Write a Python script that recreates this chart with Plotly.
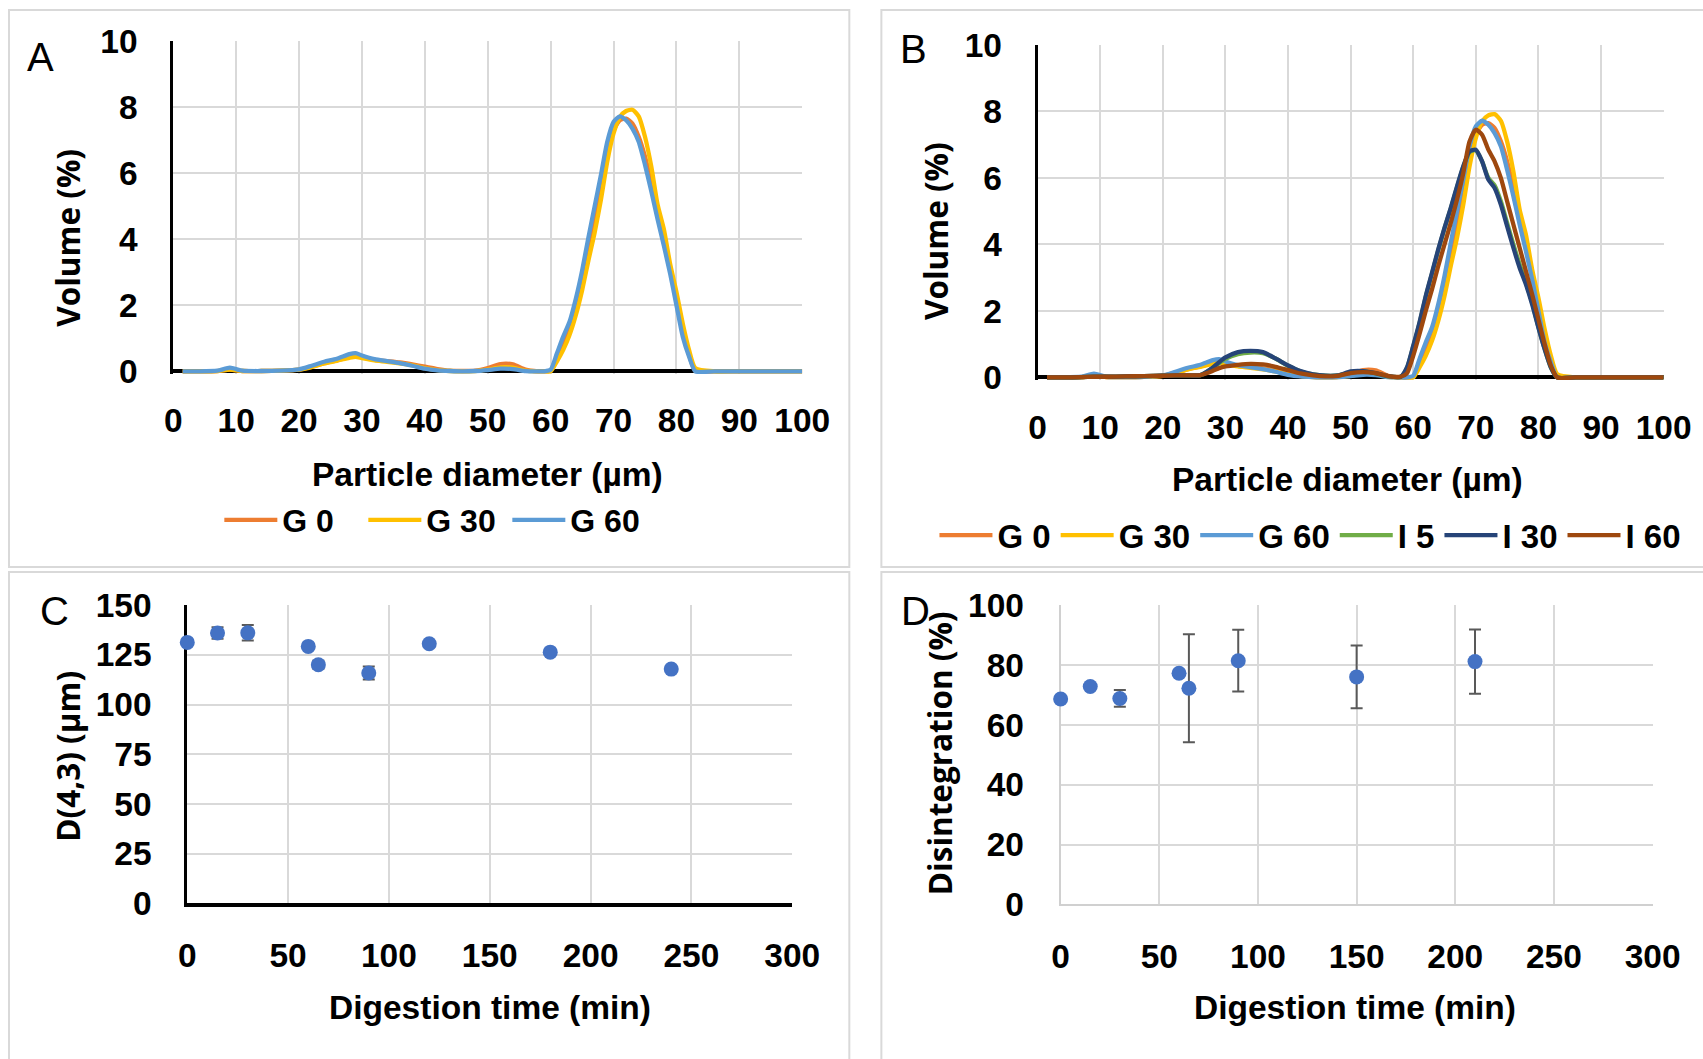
import plotly.graph_objects as go

# ---------------- data ----------------
diameter = [1.5, 4, 7, 9, 11, 14, 17, 20, 22, 24, 26, 28, 29, 30, 32, 34, 36, 38, 40, 42,
            44, 46, 48, 50, 52, 54, 56, 58, 59, 60, 61, 62, 63, 64, 65, 66, 67, 68, 69, 70,
            71, 72, 73, 74, 75, 76, 77, 78, 79, 80, 81, 82, 83, 86, 90, 95, 100]

g0 = [0, 0, 0.01, 0.05, 0.01, 0.01, 0.02, 0.05,
      0.14, 0.25, 0.33, 0.43, 0.46, 0.42,
      0.35, 0.31, 0.27, 0.21, 0.14, 0.07, 0.02, 0.01, 0.02, 0.1,
      0.22, 0.21, 0.05, 0, 0, 0.02,
      0.45, 0.85, 1.35, 2.0, 2.8, 3.7, 4.65, 5.6, 6.6, 7.3, 7.6, 7.65, 7.5, 7.1, 6.5, 5.7,
      4.8, 4.0, 3.1, 2.15, 1.2, 0.5, 0.02,
      0, 0, 0, 0]
g30 = [0, 0, 0.01, 0.05, 0.01, 0.01, 0.02, 0.05,
       0.13, 0.24, 0.32, 0.41, 0.44, 0.4,
       0.33, 0.29, 0.24, 0.18, 0.1, 0.04, 0.01, 0, 0.01, 0.05,
       0.12, 0.11, 0.02, 0, 0, 0,
       0.3, 0.65, 1.1, 1.7, 2.45, 3.35, 4.2, 5.2, 6.35, 7.2, 7.7, 7.88, 7.92, 7.72, 7.1, 6.2,
       5.05, 4.3, 3.25, 2.4, 1.45, 0.65, 0.1,
       0, 0, 0, 0]
g60 = [0, 0, 0.02, 0.11, 0.02, 0.01, 0.02, 0.06,
       0.17, 0.29, 0.38, 0.52, 0.55, 0.48,
       0.37, 0.31, 0.25, 0.17, 0.08, 0.03, 0.01, 0, 0.01, 0.04,
       0.08, 0.07, 0.01, 0, 0, 0.05,
       0.55, 1.05, 1.5, 2.2, 3.05, 4.05, 5.0, 5.95, 6.95, 7.55, 7.72, 7.6, 7.35, 6.95, 6.25, 5.45,
       4.6, 3.8, 2.95, 2.0, 1.05, 0.45, 0,
       0, 0, 0, 0]
i5 = [0, 0, 0.01, 0.02, 0.02, 0.03, 0.04, 0.05,
      0.06, 0.06, 0.07, 0.28, 0.43, 0.56,
      0.7, 0.75, 0.73, 0.57, 0.35, 0.18, 0.09, 0.05, 0.06, 0.15,
      0.18, 0.12, 0.03, 0.02, 0.28, 0.92,
      1.62, 2.42, 3.12, 3.82, 4.48, 5.08, 5.72, 6.33, 6.78, 6.83, 6.5, 6.0, 5.78, 5.3, 4.65, 4.0,
      3.4, 2.85, 2.25, 1.52, 0.86, 0.3, 0,
      0, 0, 0, 0]
i30 = [0, 0, 0.01, 0.02, 0.02, 0.03, 0.04, 0.05,
       0.06, 0.06, 0.07, 0.3, 0.46, 0.6,
       0.76, 0.8, 0.76, 0.57, 0.36, 0.19, 0.09, 0.05, 0.06, 0.18,
       0.19, 0.13, 0.04, 0.02, 0.3, 0.95,
       1.65, 2.45, 3.15, 3.85, 4.5, 5.1, 5.75, 6.35, 6.8, 6.85, 6.5, 5.95, 5.7, 5.2, 4.55, 3.9,
       3.3, 2.8, 2.2, 1.5, 0.85, 0.3, 0,
       0, 0, 0, 0]
i60 = [0, 0, 0.01, 0.02, 0.02, 0.03, 0.04, 0.05,
       0.06, 0.06, 0.07, 0.2, 0.28, 0.33,
       0.38, 0.41, 0.39, 0.32, 0.22, 0.12, 0.06, 0.03, 0.05, 0.13,
       0.16, 0.13, 0.04, 0.02, 0.12, 0.65,
       1.3, 2.0, 2.65, 3.35, 4.0, 4.65, 5.35, 6.15, 7.1, 7.45, 7.3, 6.85, 6.5, 6.0, 5.3, 4.6,
       3.9, 3.2, 2.5, 1.75, 1.0, 0.35, 0,
       0, 0, 0, 0]

time_c = [0, 15, 30, 60, 65, 90, 120, 180, 240]
d43 = [131.2, 135.9, 136.0, 129.2, 120.0, 115.8, 130.5, 126.3, 117.8]
d43_err = [1, 2.9, 3.9, 1, 2, 3.3, 1, 1, 1]

time_d = [0, 15, 30, 60, 65, 90, 150, 210]
disint = [68.6, 72.8, 68.8, 77.2, 72.2, 81.4, 76.0, 81.1]
disint_err = [0, 0, 2.8, 0, 18.0, 10.3, 10.5, 10.7]

names_a = ["G 0", "G 30", "G 60"]
names_b = ["G 0", "G 30", "G 60", "I 5", "I 30", "I 60"]
colors = ["#ED7D31", "#FFC000", "#5B9BD5", "#70AD47", "#264478", "#9E480E"]

# ---------------- figure ----------------
# measured mapping from figure pixels to the photographed page
OX, OY = 9.0, 17.0
SX, SY = 0.977, 0.967
W, H = 1724, 1068
fig = go.Figure()

series_a = [g0, g30, g60]
series_b = [g0, g30, g60, i5, i30, i60]

for name, vals, col in zip(names_a, series_a, colors):
    fig.add_trace(go.Scatter(x=diameter, y=vals, mode="lines", name=name,
                             line=dict(color=col, width=4.3, shape="spline", smoothing=0.6),
                             xaxis="x", yaxis="y", legend="legend"))
for name, vals, col in zip(names_b, series_b, colors):
    fig.add_trace(go.Scatter(x=diameter, y=vals, mode="lines", name=name,
                             line=dict(color=col, width=4.3, shape="spline", smoothing=0.6),
                             xaxis="x2", yaxis="y2", legend="legend2"))

err_style = dict(type="data", thickness=2, width=6, color="#595959")
fig.add_trace(go.Scatter(x=time_c, y=d43, mode="markers", showlegend=False,
                         marker=dict(color="#4472C4", size=15), cliponaxis=False,
                         error_y=dict(array=d43_err, **err_style),
                         xaxis="x3", yaxis="y3"))
fig.add_trace(go.Scatter(x=time_d, y=disint, mode="markers", showlegend=False,
                         marker=dict(color="#4472C4", size=15), cliponaxis=False,
                         error_y=dict(array=disint_err, **err_style),
                         xaxis="x4", yaxis="y4"))

tickfont = dict(family="Liberation Sans, Arial, sans-serif", size=33.5, color="black", weight="bold")
grid = dict(showgrid=True, gridcolor="#D9D9D9", gridwidth=2, ticks="", tickfont=tickfont,
            layer="below traces", fixedrange=True)


def px(t):
    return ((t - OX) / SX) / W


def py(t):
    return 1 - ((t - OY) / SY) / H


legfont = dict(family="Liberation Sans, Arial, sans-serif", size=32, color="black", weight="bold")
legfont2 = dict(family="Liberation Sans, Arial, sans-serif", size=33, color="black", weight="bold")

layout = dict(
    width=W, height=H, autosize=False,
    margin=dict(l=0, r=0, t=0, b=0),
    paper_bgcolor="white", plot_bgcolor="white",
    # Panel A
    xaxis=dict(domain=[px(173), px(801)], range=[0, 100], dtick=10, tick0=0, anchor="y",
               showline=False, zeroline=False, ticklabelstandoff=24, **grid),
    yaxis=dict(domain=[py(373.6), py(40)], range=[-0.08, 10], dtick=2, tick0=0, anchor="x",
               showline=True, linecolor="black", linewidth=3,
               zeroline=True, zerolinecolor="black", zerolinewidth=4,
               ticklabelstandoff=26, **grid),
    # Panel B
    xaxis2=dict(domain=[px(1036), px(1661)], range=[0, 100], dtick=10, tick0=0, anchor="y2",
                showline=False, zeroline=False, ticklabelstandoff=24, **grid),
    yaxis2=dict(domain=[py(379.7), py(44)], range=[-0.08, 10], dtick=2, tick0=0, anchor="x2",
                showline=True, linecolor="black", linewidth=3,
                zeroline=True, zerolinecolor="black", zerolinewidth=4,
                ticklabelstandoff=26, **grid),
    # Panel C
    xaxis3=dict(domain=[px(187), px(791)], range=[0, 300], dtick=50, tick0=0, anchor="y3",
                showline=True, linecolor="black", linewidth=4, zeroline=False,
                ticklabelstandoff=19, **grid),
    yaxis3=dict(domain=[py(904), py(605)], range=[0, 150], dtick=25, tick0=0, anchor="x3",
                showline=True, linecolor="black", linewidth=3, zeroline=False,
                ticklabelstandoff=26, **grid),
    # Panel D
    xaxis4=dict(domain=[px(1059), px(1650)], range=[0, 300], dtick=50, tick0=0, anchor="y4",
                showline=True, linecolor="#D0D0D0", linewidth=2, zeroline=False,
                ticklabelstandoff=21, **grid),
    yaxis4=dict(domain=[py(905), py(605)], range=[0, 100], dtick=20, tick0=0, anchor="x4",
                showline=True, linecolor="#D0D0D0", linewidth=2, zeroline=False,
                ticklabelstandoff=28, **grid),
    legend=dict(orientation="h", x=px(219), xanchor="left", y=py(520), yanchor="middle",
                font=legfont, bgcolor="rgba(0,0,0,0)", itemwidth=53, tracegroupgap=0,
                entrywidth=76, entrywidthmode="pixels"),
    legend2=dict(orientation="h", x=px(933), xanchor="left", y=py(535), yanchor="middle",
                 font=legfont2, bgcolor="rgba(0,0,0,0)", itemwidth=53, tracegroupgap=0),
    showlegend=True,
)
fig.update_layout(**layout)

# Panel borders
border = dict(type="rect", xref="paper", yref="paper", line=dict(color="#D9D9D9", width=2),
              fillcolor="rgba(0,0,0,0)", layer="below")
fig.add_shape(x0=px(9), x1=px(848), y0=py(567), y1=py(9), **border)
fig.add_shape(x0=px(880), x1=px(1740), y0=py(567), y1=py(9), **border)
fig.add_shape(x0=px(9), x1=px(848), y0=py(1090), y1=py(572), **border)
fig.add_shape(x0=px(880), x1=px(1740), y0=py(1090), y1=py(572), **border)

title_x_font = dict(family="Liberation Sans, Arial, sans-serif", size=33.5, color="black", weight="bold")
title_y_font = dict(family="Open Sans, sans-serif", size=31.5, color="black", weight="bold")
letter_font = dict(family="Liberation Sans, Arial, sans-serif", size=40, color="black")

annots = [
    ("Particle diameter (µm)", 487, 474, 0, title_x_font),
    ("Particle diameter (µm)", 1345, 479, 0, title_x_font),
    ("Digestion time (min)", 489, 1008, 0, title_x_font),
    ("Digestion time (min)", 1353, 1008, 0, title_x_font),
    ("Volume (%)", 68, 237, -90, title_y_font),
    ("Volume (%)", 934, 230, -90, title_y_font),
    ("D(4,3) (µm)", 68, 757, -90, title_y_font),
    ("Disintegration (%)", 938, 753, -90, title_y_font),
    ("A", 40, 56, 0, letter_font),
    ("B", 912, 48, 0, letter_font),
    ("C", 54, 611, 0, letter_font),
    ("D", 914, 611, 0, letter_font),
]
for text, xp, yp, ang, f in annots:
    fig.add_annotation(text=text, x=px(xp), y=py(yp), xref="paper", yref="paper",
                       xanchor="center", yanchor="middle", showarrow=False,
                       textangle=ang, font=f)

fig.write_html("out.html")
